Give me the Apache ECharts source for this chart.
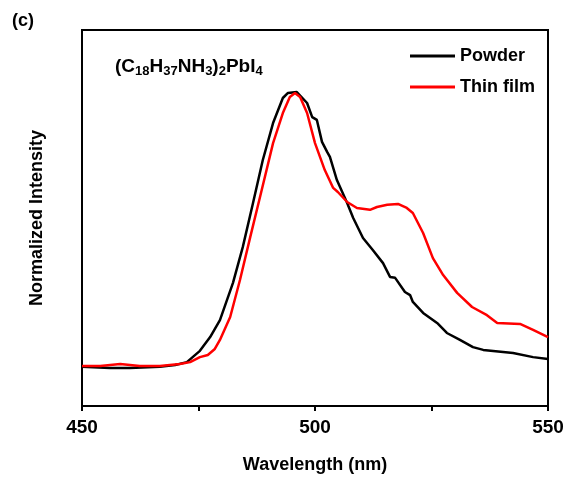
<!DOCTYPE html>
<html>
<head>
<meta charset="utf-8">
<script src="https://cdn.jsdelivr.net/npm/echarts@6/dist/echarts.min.js"></script>
<style>
  html, body { margin: 0; padding: 0; background: #fff; }
  #main { width: 569px; height: 477px; }
</style>
</head>
<body>
<div id="main"></div>
<script>
// wavelength (nm) / normalized intensity
var powderX = [450, 456, 460.3, 466.7, 470, 472.5, 475.3, 477.5, 479.6, 482.4, 484.5, 486.7, 488.8, 491, 493.1, 494.2, 496.1, 498.3, 499.4, 500.4, 501.5, 502.6, 503.2, 504.7, 506.9, 508.2, 510.3, 512.4, 514.6, 516.1, 517.2, 519.3, 520.4, 521, 523.2, 526.2, 528.3, 531.1, 533.9, 536.1, 542.5, 546.8, 550];
var powderY = [0.125, 0.121, 0.121, 0.125, 0.131, 0.140, 0.176, 0.220, 0.274, 0.393, 0.507, 0.648, 0.785, 0.903, 0.983, 0.999, 1.002, 0.967, 0.922, 0.913, 0.843, 0.811, 0.795, 0.721, 0.648, 0.600, 0.536, 0.498, 0.456, 0.412, 0.409, 0.364, 0.354, 0.332, 0.297, 0.265, 0.233, 0.211, 0.188, 0.179, 0.169, 0.156, 0.150];

var filmX = [450, 453.9, 458.2, 462.4, 466.7, 471, 473.2, 475.3, 477, 478.5, 479.6, 481.8, 483.9, 486.1, 488.2, 491, 493.1, 494.6, 495.7, 496.8, 498.3, 500, 502.1, 503.9, 504.9, 506.9, 509, 511.8, 513.3, 515.5, 517.8, 519.7, 521, 523.2, 525.3, 527.5, 530.5, 533.7, 536.9, 539.1, 544, 546.8, 550];
var filmY = [0.128, 0.128, 0.134, 0.128, 0.128, 0.134, 0.140, 0.156, 0.163, 0.182, 0.211, 0.284, 0.402, 0.539, 0.667, 0.839, 0.935, 0.986, 0.999, 0.986, 0.935, 0.839, 0.753, 0.696, 0.683, 0.651, 0.632, 0.626, 0.635, 0.642, 0.645, 0.632, 0.616, 0.552, 0.472, 0.418, 0.361, 0.316, 0.290, 0.265, 0.262, 0.243, 0.220];

var seriesNames = ['Powder', 'Thin film'];
var xTicks = [450, 500, 550];

function pairs(xs, ys) {
  return xs.map(function (x, i) { return [x, ys[i]]; });
}

var font = 'Arial, "Liberation Sans", Helvetica, sans-serif';
var myChart = echarts.init(document.getElementById('main'), null, { renderer: 'canvas' });

var option = {
  backgroundColor: '#fff',
  animation: false,
  textStyle: { fontFamily: font },
  grid: {
    left: 82, right: 21, top: 30, bottom: 71,
    outerBoundsMode: 'none',
    containLabel: false,
    show: true, borderColor: '#000', borderWidth: 2
  },
  legend: {
    orient: 'vertical',
    left: 405,
    top: 42,
    itemWidth: 45,
    itemHeight: 3,
    itemGap: 13,
    icon: 'rect',
    textStyle: { fontFamily: font, fontWeight: 'bold', fontSize: 18, color: '#000' },
    data: seriesNames
  },
  xAxis: {
    type: 'value',
    min: 450, max: 550, interval: 25,
    name: 'Wavelength (nm)',
    nameLocation: 'middle',
    nameGap: 50,
    nameTextStyle: { fontFamily: font, fontWeight: 'bold', fontSize: 18, color: '#000' },
    axisLine: { show: true, lineStyle: { color: '#000', width: 2 } },
    axisTick: { show: true, inside: false, length: 5, lineStyle: { color: '#000', width: 2 } },
    axisLabel: {
      margin: 12,
      fontFamily: font, fontWeight: 'bold', fontSize: 19, color: '#000',
      formatter: function (v) { return xTicks.indexOf(v) >= 0 ? String(v) : ''; }
    },
    splitLine: { show: false }
  },
  yAxis: {
    type: 'value',
    min: 0, max: 1.2,
    name: 'Normalized Intensity',
    nameLocation: 'middle',
    nameGap: 36,
    nameTextStyle: { fontFamily: font, fontWeight: 'bold', fontSize: 18, color: '#000' },
    axisLine: { show: true, lineStyle: { color: '#000', width: 2 } },
    axisTick: { show: false },
    axisLabel: { show: false },
    splitLine: { show: false }
  },
  graphic: [
    {
      type: 'text', left: 12, top: 12,
      style: { text: '(c)', font: 'bold 18px ' + font, fill: '#000' }
    },
    {
      type: 'text', left: 115, top: 57,
      style: {
        text: '(C{s|18}H{s|37}NH{s|3}){s|2}PbI{s|4}',
        font: 'bold 19px ' + font,
        fill: '#000',
        rich: {
          s: { fontSize: 13, fontWeight: 'bold', fontFamily: font, padding: [8, 0, 0, 0], lineHeight: 13, verticalAlign: 'top' }
        },
        lineHeight: 19,
        verticalAlign: 'top'
      }
    }
  ],
  series: [
    {
      name: seriesNames[0],
      type: 'line',
      data: pairs(powderX, powderY),
      showSymbol: false,
      smooth: false,
      lineStyle: { color: '#000', width: 2.5 },
      itemStyle: { color: '#000' }
    },
    {
      name: seriesNames[1],
      type: 'line',
      data: pairs(filmX, filmY),
      showSymbol: false,
      smooth: false,
      lineStyle: { color: '#ff0000', width: 2.5 },
      itemStyle: { color: '#ff0000' }
    }
  ]
};

myChart.setOption(option);
</script>
</body>
</html>
